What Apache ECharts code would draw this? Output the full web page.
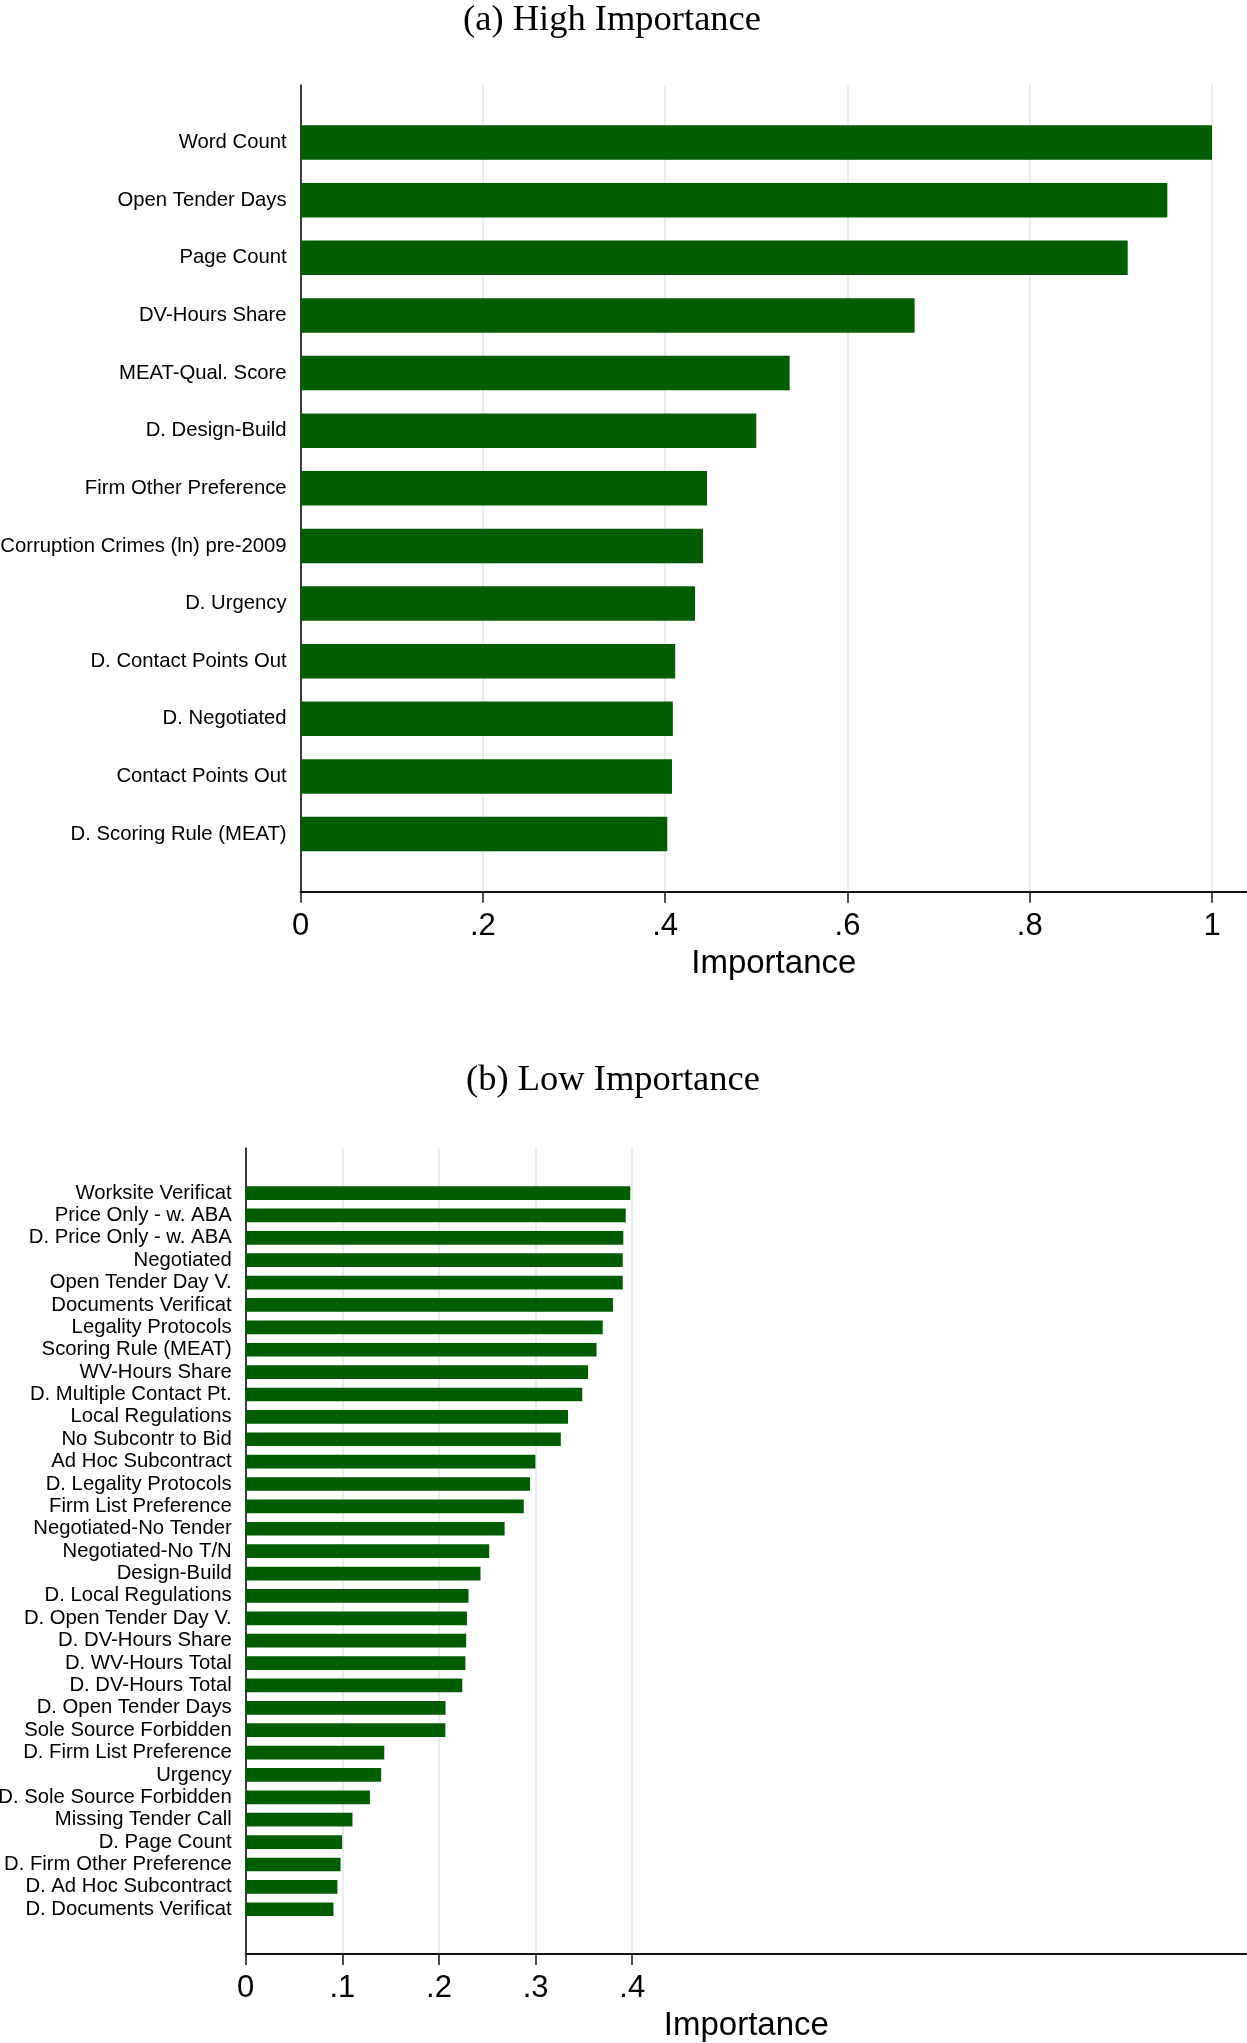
<!DOCTYPE html>
<html>
<head>
<meta charset="utf-8">
<script src="https://cdn.jsdelivr.net/npm/echarts@6.0.0/dist/echarts.min.js"></script>
<style>
html,body{margin:0;padding:0;background:#fff;}
#chart{width:1247px;height:2043px;}
</style>
</head>
<body>
<div id="chart"></div>
<script>
// ---- Data ----
const titleHigh = '(a) High Importance';
const titleLow = '(b) Low Importance';
const axisName = 'Importance';

const catsHigh = ['Word Count','Open Tender Days','Page Count','DV-Hours Share','MEAT-Qual. Score','D. Design-Build','Firm Other Preference','Corruption Crimes (ln) pre-2009','D. Urgency','D. Contact Points Out','D. Negotiated','Contact Points Out','D. Scoring Rule (MEAT)'];
const valsHigh = [1.000, 0.951, 0.9075, 0.6737, 0.5366, 0.500, 0.446, 0.4415, 0.4328, 0.411, 0.4084, 0.4075, 0.4023];
const ticksHigh = [0, 0.2, 0.4, 0.6, 0.8, 1];

const catsLow = ['Worksite Verificat','Price Only - w. ABA','D. Price Only - w. ABA','Negotiated','Open Tender Day V.','Documents Verificat','Legality Protocols','Scoring Rule (MEAT)','WV-Hours Share','D. Multiple Contact Pt.','Local Regulations','No Subcontr to Bid','Ad Hoc Subcontract','D. Legality Protocols','Firm List Preference','Negotiated-No Tender','Negotiated-No T/N','Design-Build','D. Local Regulations','D. Open Tender Day V.','D. DV-Hours Share','D. WV-Hours Total','D. DV-Hours Total','D. Open Tender Days','Sole Source Forbidden','D. Firm List Preference','Urgency','D. Sole Source Forbidden','Missing Tender Call','D. Page Count','D. Firm Other Preference','D. Ad Hoc Subcontract','D. Documents Verificat'];
const valsLow = [0.398, 0.3933, 0.3908, 0.3902, 0.3902, 0.3801, 0.3695, 0.3631, 0.3543, 0.3483, 0.3336, 0.3261, 0.2998, 0.2943, 0.2878, 0.2680, 0.2520, 0.2430, 0.2306, 0.2290, 0.2282, 0.2274, 0.2241, 0.2068, 0.2066, 0.1434, 0.1402, 0.1286, 0.1105, 0.0998, 0.0982, 0.0949, 0.0908];
const ticksLow = [0, 0.1, 0.2, 0.3, 0.4];

// ---- Layout / style ----
const W = 1247;
const barColor = '#005e00';
const gridColor = '#e6eef0';
const sans = 'Liberation Sans, Arial, Helvetica, sans-serif';
const serif = 'Liberation Serif, Times New Roman, serif';

const gA = {left: 300.6, top: 85, height: 806.7, unit: 911.4};
const gB = {left: 245.7, top: 1148.3, height: 805.7, unit: 966.25};

function pad(arr, n, v) {
  const p = new Array(n).fill(v);
  return p.concat(arr, p);
}
function fmt(v) {
  if (v === 0) return '0';
  return String(v).replace(/^0(?=\.)/, '');
}

function xAxisFor(idx, g, ticks) {
  return {
    gridIndex: idx,
    type: 'value',
    min: 0,
    max: (W - g.left) / g.unit,
    axisLine: {show: true, lineStyle: {color: '#111', width: 2}},
    axisTick: {show: true, length: 11, customValues: ticks, lineStyle: {color: '#111', width: 1.5}},
    axisLabel: {customValues: ticks, formatter: fmt, fontSize: 31, margin: 19, color: '#000', fontFamily: sans},
    splitLine: {show: true, lineStyle: {color: gridColor, width: 2}},
    name: axisName,
    nameLocation: 'middle',
    nameGap: 55.5,
    nameTextStyle: {fontSize: 33, color: '#000', fontFamily: sans}
  };
}
function yAxisFor(idx, cats, padN, padTop) {
  return {
    gridIndex: idx,
    type: 'category',
    inverse: true,
    boundaryGap: false,
    data: pad(cats, padN, ''),
    axisLine: {show: true, lineStyle: {color: '#000', width: 1.5}},
    axisTick: {show: false},
    axisLabel: {interval: 0, margin: 14, fontSize: 20.3, color: '#000', fontFamily: sans,
                padding: [padTop, 0, 0, 0]},
    splitLine: {show: false}
  };
}

const chart = echarts.init(document.getElementById('chart'), null, {renderer: 'canvas'});
chart.setOption({
  backgroundColor: '#fff',
  animation: false,
  title: [
    {text: titleHigh, left: 612, top: 1.5, textAlign: 'center', padding: 0,
     textStyle: {fontFamily: serif, fontSize: 36.5, fontWeight: 'normal', color: '#000'}},
    {text: titleLow, left: 613, top: 1062, textAlign: 'center', padding: 0,
     textStyle: {fontFamily: serif, fontSize: 36.5, fontWeight: 'normal', color: '#000'}}
  ],
  grid: [
    {left: gA.left, right: 0, top: gA.top, height: gA.height, containLabel: false, outerBoundsMode: 'none'},
    {left: gB.left, right: 0, top: gB.top, height: gB.height, containLabel: false, outerBoundsMode: 'none'}
  ],
  xAxis: [xAxisFor(0, gA, ticksHigh), xAxisFor(1, gB, ticksLow)],
  yAxis: [yAxisFor(0, catsHigh, 1, 4), yAxisFor(1, catsLow, 2, 2)],
  series: [
    {type: 'bar', xAxisIndex: 0, yAxisIndex: 0, data: pad(valsHigh, 1, null),
     barWidth: 34.5, itemStyle: {color: barColor}},
    {type: 'bar', xAxisIndex: 1, yAxisIndex: 1, data: pad(valsLow, 2, null),
     barWidth: 13.7, itemStyle: {color: barColor}}
  ]
});
</script>
</body>
</html>
